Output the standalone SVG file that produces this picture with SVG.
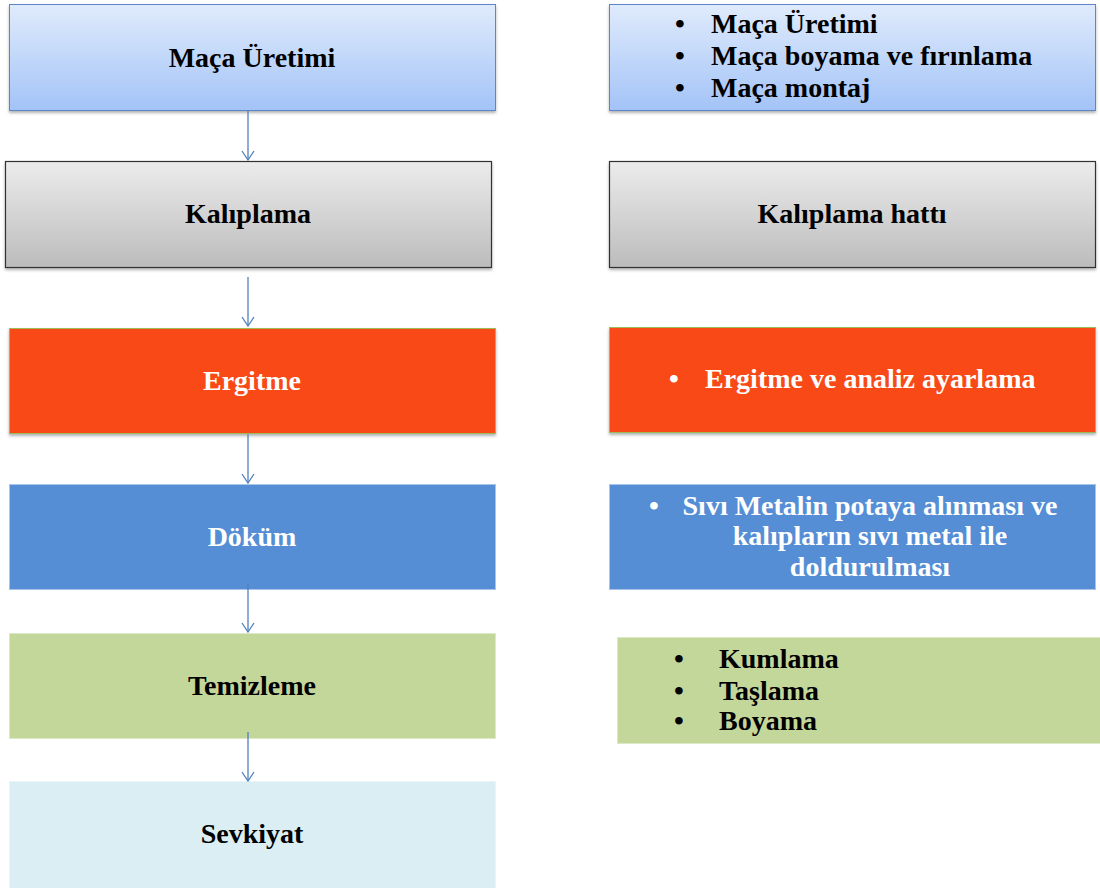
<svg xmlns="http://www.w3.org/2000/svg" width="1100" height="888" viewBox="0 0 1100 888">
<style>
text{font-family:"Liberation Serif","Times New Roman",serif;font-weight:bold;font-size:28px;fill:#000}
.w{fill:#fff}
.c{text-anchor:middle}
.conn line{stroke:#4f81bd;stroke-width:1.3;fill:none}
</style>
<defs>
<linearGradient id="gb" x1="0" y1="0" x2="0" y2="1"><stop offset="0" stop-color="#e0ebfc"/><stop offset="1" stop-color="#a3c3f7"/></linearGradient>
<linearGradient id="gg" x1="0" y1="0" x2="0" y2="1"><stop offset="0" stop-color="#ececec"/><stop offset="1" stop-color="#bcbcbc"/></linearGradient>
<filter id="sh" x="-5%" y="-10%" width="110%" height="125%"><feDropShadow dx="0" dy="2" stdDeviation="1.5" flood-color="#000" flood-opacity="0.3"/></filter>
<marker id="v" viewBox="0 0 14 12" refX="7" refY="11" markerWidth="14" markerHeight="12" markerUnits="userSpaceOnUse" orient="0">
<path d="M1,2 L7,11 L13,2" fill="none" stroke="#4f81bd" stroke-width="1.3"/>
</marker>
</defs>
<g id="n1"><rect x="9.5" y="4.5" width="486" height="106" fill="url(#gb)" stroke="#5b86c5" filter="url(#sh)"/><text class="c" x="252" y="67">Maça Üretimi</text></g>
<g id="n2"><rect x="5.5" y="161.5" width="486" height="106" fill="url(#gg)" stroke="#333" stroke-width="1.2" filter="url(#sh)"/><text class="c" x="248" y="223">Kalıplama</text></g>
<g id="n3"><rect x="9.5" y="328.5" width="486" height="105" fill="#f84817" stroke="#9bbb59" filter="url(#sh)"/><text class="c w" x="252" y="390">Ergitme</text></g>
<g id="n4"><rect x="9.5" y="484.5" width="486" height="105" fill="#558ed5" stroke="#a9c4ea"/><text class="c w" x="252" y="546">Döküm</text></g>
<g id="n5"><rect x="9.5" y="633.5" width="486" height="105" fill="#c4d79b" stroke="#dde8c6"/><text class="c" x="252" y="695">Temizleme</text></g>
<g id="n6"><rect x="9.5" y="781.5" width="486" height="110" fill="#dbeef4" stroke="#e8f4f8"/><text class="c" x="252" y="843">Sevkiyat</text></g>

<g id="r1"><rect x="609.5" y="4.5" width="486" height="106" fill="url(#gb)" stroke="#5b86c5" filter="url(#sh)"/>
<text x="675" y="33">•</text><text x="711" y="33">Maça Üretimi</text>
<text x="675" y="65">•</text><text x="711" y="65">Maça boyama ve fırınlama</text>
<text x="675" y="97">•</text><text x="711" y="97">Maça montaj</text></g>
<g id="r2"><rect x="609.5" y="161.5" width="486" height="106" fill="url(#gg)" stroke="#333" stroke-width="1.2" filter="url(#sh)"/><text class="c" x="852" y="223">Kalıplama hattı</text></g>
<g id="r3"><rect x="609.5" y="327.5" width="486" height="105" fill="#f84817" stroke="#9bbb59" filter="url(#sh)"/>
<text class="w" x="669" y="388">•</text><text class="w" x="705" y="388">Ergitme ve analiz ayarlama</text></g>
<g id="r4"><rect x="609.5" y="484.5" width="486" height="105" fill="#558ed5" stroke="#a9c4ea"/>
<text class="w" x="649" y="515">•</text>
<text class="c w" x="870" y="515">Sıvı Metalin potaya alınması ve</text>
<text class="c w" x="870" y="545">kalıpların sıvı metal ile</text>
<text class="c w" x="870" y="576">doldurulması</text></g>
<g id="r5"><rect x="617.5" y="637.5" width="490" height="106" fill="#c4d79b" stroke="#dde8c6"/>
<text x="674" y="668">•</text><text x="719" y="668">Kumlama</text>
<text x="674" y="700">•</text><text x="719" y="700">Taşlama</text>
<text x="674" y="730">•</text><text x="719" y="730">Boyama</text></g>

<g id="connectors" class="conn">
<line x1="248" y1="111" x2="248" y2="160" marker-end="url(#v)"/>
<line x1="248" y1="277" x2="248" y2="326" marker-end="url(#v)"/>
<line x1="248" y1="434" x2="248" y2="483" marker-end="url(#v)"/>
<line x1="248" y1="583" x2="248" y2="632" marker-end="url(#v)"/>
<line x1="248" y1="732" x2="248" y2="781" marker-end="url(#v)"/>
</g>
</svg>
